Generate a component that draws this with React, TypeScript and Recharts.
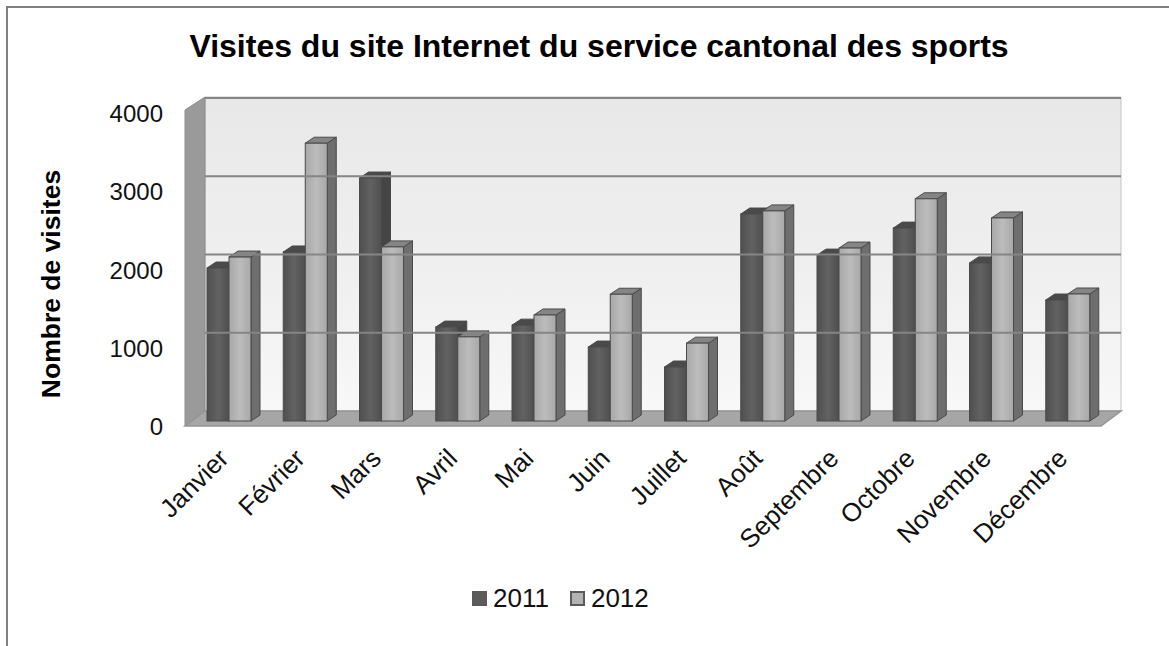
import React from "react";
import { BarChart, Bar, XAxis, YAxis, ReferenceLine, Legend } from "recharts";

const months = ["Janvier", "Février", "Mars", "Avril", "Mai", "Juin", "Juillet", "Août", "Septembre", "Octobre", "Novembre", "Décembre"];
const visits2011 = [1955, 2160, 3105, 1200, 1225, 945, 690, 2645, 2120, 2465, 2020, 1546];
const visits2012 = [2095, 3550, 2225, 1075, 1355, 1620, 995, 2685, 2210, 2840, 2595, 1623];
const yTicks = [0, 1000, 2000, 3000, 4000];
const gridValues = [1000, 2000, 3000, 4000];

const data = months.map((name, i) => ({ name, y2011: visits2011[i], y2012: visits2012[i] }));

const font = "'Liberation Sans', Arial, sans-serif";

// 3d look: front face is nudged into the floor, then side and top faces are added
function Bar3D(props: any) {
  const { x, y, width, height, face, side, top } = props;
  const fx = x + 6;
  const fy = y - 4;
  const dx = 9;
  const dy = 6;
  return (
    <g stroke="#4a4a4a" strokeWidth={1}>
      <polygon points={`${fx + width},${fy} ${fx + width + dx},${fy - dy} ${fx + width + dx},${fy + height - dy} ${fx + width},${fy + height}`} fill={side} />
      <polygon points={`${fx},${fy} ${fx + dx},${fy - dy} ${fx + width + dx},${fy - dy} ${fx + width},${fy}`} fill={top} />
      <rect x={fx} y={fy} width={width} height={height} fill={face} />
    </g>
  );
}

function BackLine(props: any) {
  const { x1, x2, y1 } = props;
  return <line x1={x1 + 20} x2={x2 + 21} y1={y1 - 14} y2={y1 - 14} stroke="#858585" strokeWidth={2} />;
}

function MonthTick(props: any) {
  const { x, y, payload } = props;
  const tx = x + 7;
  const ty = y + 27;
  return (
    <text x={tx} y={ty} textAnchor="end" fontSize={26} fontFamily={font} fill="#111" transform={`rotate(-45 ${tx} ${ty})`}>
      {payload.value}
    </text>
  );
}

function ValueTick(props: any) {
  const { x, y, payload } = props;
  return (
    <text x={x + 1} y={y + 10} textAnchor="end" fontSize={24} fontFamily={font} fill="#111">
      {payload.value}
    </text>
  );
}

function LegendBox() {
  const items = [
    { label: "2011", color: "#5c5c5c" },
    { label: "2012", color: "#b2b2b2" },
  ];
  return (
    <div style={{ display: "flex", alignItems: "center", fontFamily: font, fontSize: 26, color: "#111" }}>
      {items.map((it) => (
        <div key={it.label} style={{ display: "flex", alignItems: "center", marginRight: 21 }}>
          <span style={{ width: 11, height: 11, background: it.color, border: "2px solid #5a5a5a", marginRight: 6, display: "inline-block" }} />
          {it.label}
        </div>
      ))}
    </div>
  );
}

export default function App() {
  return (
    <div style={{ position: "fixed", left: 0, top: 0, width: 1169, height: 646, background: "#fff", overflow: "hidden" }}>
      <div style={{ position: "absolute", left: 6, top: 6, right: 0, bottom: 0, borderLeft: "2px solid #7f7f7f", borderTop: "2px solid #7f7f7f" }} />
      <BarChart
        width={1169}
        height={646}
        data={data}
        barSize={22}
        barGap={0}
        barCategoryGap={0}
        margin={{ top: 112, right: 69, bottom: 0, left: 0 }}
        style={{ position: "absolute", left: 0, top: 0 }}
      >
        <defs>
          <linearGradient id="wall" x1="0" y1="0" x2="0" y2="1">
            <stop offset="0%" stopColor="#e8e8e8" />
            <stop offset="60%" stopColor="#f0f0f0" />
            <stop offset="100%" stopColor="#f8f8f8" />
          </linearGradient>
          <linearGradient id="darkFace" x1="0" y1="0" x2="1" y2="0">
            <stop offset="0%" stopColor="#4f4f4f" />
            <stop offset="50%" stopColor="#626262" />
            <stop offset="100%" stopColor="#4f4f4f" />
          </linearGradient>
          <linearGradient id="lightFace" x1="0" y1="0" x2="1" y2="0">
            <stop offset="0%" stopColor="#a8a8a8" />
            <stop offset="50%" stopColor="#bcbcbc" />
            <stop offset="100%" stopColor="#a8a8a8" />
          </linearGradient>
        </defs>

        <text x={599} y={57} textAnchor="middle" fontSize={32} fontWeight="bold" fontFamily={font} fill="#000">
          Visites du site Internet du service cantonal des sports
        </text>
        <text x={60} y={284} textAnchor="middle" fontSize={26.5} fontWeight="bold" fontFamily={font} fill="#000" transform="rotate(-90 60 284)">
          Nombre de visites
        </text>

        {/* walls and floor */}
        <polygon points="205,97 1121,97 1121,411 205,411" fill="url(#wall)" stroke="#c4c4c4" strokeWidth={1} />
        <polygon points="185,110 205,97 205,411 185,426" fill="#9a9a9a" stroke="#8c8c8c" strokeWidth={1} />
        <polygon points="185,426 205,411 1121,411 1101,426" fill="#a6a6a6" stroke="#949494" strokeWidth={1.5} />

        <XAxis dataKey="name" height={221} interval={0} axisLine={false} tickLine={false} tick={<MonthTick />} />
        <YAxis width={185} domain={[0, 4000]} ticks={yTicks} axisLine={false} tickLine={false} tickSize={0} tickMargin={23} tick={<ValueTick />} />

        {gridValues.map((v) => (
          <ReferenceLine key={v} y={v} shape={<BackLine />} />
        ))}

        <Bar dataKey="y2011" name="2011" isAnimationActive={false} shape={<Bar3D face="url(#darkFace)" side="#454545" top="#4a4a4a" />} />
        <Bar dataKey="y2012" name="2012" isAnimationActive={false} shape={<Bar3D face="url(#lightFace)" side="#6e6e6e" top="#858585" />} />

        <Legend verticalAlign="middle" content={<LegendBox />} wrapperStyle={{ left: 472, top: 583, width: 220, bottom: "auto" }} />
      </BarChart>
    </div>
  );
}
